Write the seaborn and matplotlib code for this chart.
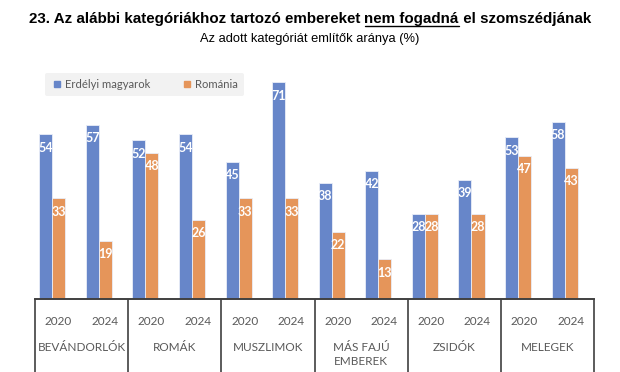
import matplotlib.pyplot as plt
import seaborn as sns
import pandas as pd
from matplotlib.lines import Line2D

# Data
categories = ['BEVÁNDORLÓK', 'ROMÁK', 'MUSZLIMOK', 'MÁS FAJÚ\nEMBEREK', 'ZSIDÓK', 'MELEGEK']
years = ['2020', '2024']
series = ['Erdélyi magyarok', 'Románia']
erdely = [54, 57, 52, 54, 45, 71, 38, 42, 28, 39, 53, 58]
romania = [33, 19, 48, 26, 33, 33, 22, 13, 28, 28, 47, 43]

slots = [f'{c}|{y}' for c in categories for y in years]
df = pd.DataFrame({
    'slot': slots * 2,
    'sorozat': [series[0]] * len(slots) + [series[1]] * len(slots),
    'ertek': erdely + romania,
})

sns.set_style('white')
plt.rcParams['font.family'] = ['Lato', 'DejaVu Sans']

colors = ['#6786c9', '#e5955a']
W, H = 620, 372
fig = plt.figure(figsize=(6.2, 3.72), dpi=100)
ax = fig.add_axes([35 / W, (H - 299) / H, 559 / W, 235 / H])

sns.barplot(data=df, x='slot', y='ertek', hue='sorozat', order=slots,
            hue_order=series, palette=colors, width=0.56, ax=ax,
            saturation=1, edgecolor='#e9eef8', linewidth=0.6, legend=True)

for cont in ax.containers:
    ax.bar_label(cont, padding=-14, color='white', fontweight='bold',
                 fontsize=9)

# the bars sit a bit left of the slot centres in the original
off = 0.13
ax.set_ylim(0, 77)
ax.set_xlim(-0.5 + off, len(slots) - 0.5 + off)
ax.set_yticks([])
ax.set_ylabel('')
ax.set_xlabel('')
for s in ['top', 'right', 'left']:
    ax.spines[s].set_visible(False)
ax.spines['bottom'].set_color('#404040')
ax.spines['bottom'].set_linewidth(1.4)

# year tick labels
ax.set_xticks([i + off for i in range(len(slots))])
ax.set_xticklabels(years * len(categories), color='#595959', fontsize=8.5)
ax.tick_params(axis='x', length=0, pad=12.5)

# category labels and group dividers
trans = ax.get_xaxis_transform()
for i, c in enumerate(categories):
    ax.text(2 * i + 0.5 + off, -0.183, c, transform=trans, ha='center', va='top',
            color='#595959', fontsize=8.5, linespacing=1.3)
ax.vlines([x - 0.5 + off for x in range(0, len(slots) + 1, 2)], -0.31, 0,
          transform=trans, colors='#404040', linewidth=1.2, clip_on=False)

# legend
handles = [Line2D([], [], marker='s', linestyle='', color=c, markersize=5)
           for c in colors]
leg = ax.legend(handles, series, loc='upper left', bbox_to_anchor=(0.008, 0.987),
                ncol=2, frameon=True, fontsize=8.1, handletextpad=0.2,
                columnspacing=2.8, borderpad=0.55, handlelength=1.0)
leg.get_frame().set_facecolor('#f2f2f2')
leg.get_frame().set_edgecolor('none')
leg.get_frame().set_alpha(1)
for t in leg.get_texts():
    t.set_color('#595959')

# title with underlined part
renderer = fig.canvas.get_renderer()
parts = ['23. Az alábbi kategóriákhoz tartozó embereket ', 'nem fogadná', ' el szomszédjának']
title_y = H - 23
tkw = dict(fontsize=10.9, fontweight='bold', family=['Liberation Sans', 'DejaVu Sans'],
           va='baseline', ha='left', color='black')
texts = [fig.text(0, title_y / H, p, **tkw) for p in parts]
widths = [t.get_window_extent(renderer).width for t in texts]
x = W / 2 - sum(widths) / 2
starts = []
for t, w in zip(texts, widths):
    t.set_x(x / W)
    starts.append(x)
    x += w
fig.add_artist(Line2D([starts[1] / W, (starts[1] + widths[1]) / W],
                      [(title_y - 3) / H] * 2, transform=fig.transFigure,
                      color='black', linewidth=1.0))

fig.text(0.5, (H - 42) / H, 'Az adott kategóriát említők aránya (%)',
         ha='center', va='baseline', fontsize=9.3,
         family=['Liberation Sans', 'DejaVu Sans'], color='black')

fig.savefig('out.png', dpi=100)
